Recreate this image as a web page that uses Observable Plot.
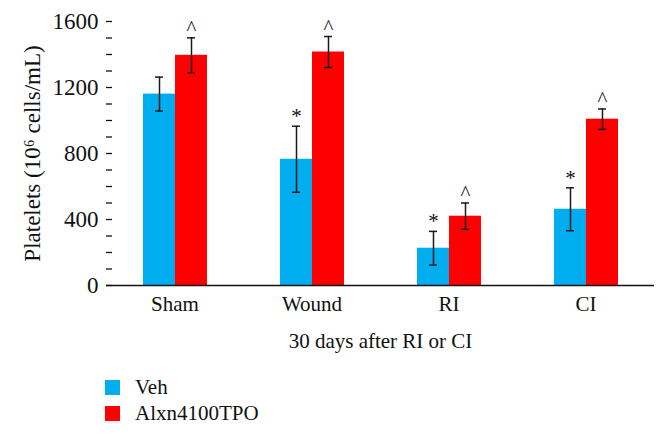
<!DOCTYPE html>
<html>
<head>
<meta charset="utf-8">
<script src="https://cdn.jsdelivr.net/npm/d3@7"></script>
<script src="https://cdn.jsdelivr.net/npm/@observablehq/plot@0.6"></script>
<style>
  body { margin: 0; background: #fff; font-family: "Liberation Serif", "DejaVu Serif", serif; }
  #legend { margin-top: 14px; padding-left: 105px; font-size: 21px; color: #111; }
  .row { height: 26px; display: flex; align-items: center; }
  .sw { width: 15px; height: 15px; margin-right: 15px; }
</style>
</head>
<body>
<div id="chart"></div>
<div id="legend"></div>
<script>
const categories = ["Sham", "Wound", "RI", "CI"];
const series = ["Veh", "Alxn4100TPO"];
const colors = ["#00aeef", "#ff0000"];
const vehValues = [1160, 765, 226, 462];
const vehErrors = [103, 200, 102, 130];
const vehMarks = ["", "*", "*", "*"];
const alxnValues = [1395, 1415, 420, 1008];
const alxnErrors = [106, 94, 80, 62];
const alxnMarks = ["^", "^", "^", "^"];
const yTicksMinor = d3.range(0, 1601, 100);
const yTicksLabeled = [0, 400, 800, 1200, 1600];

const data = [];
categories.forEach((c, i) => {
  data.push({cat: c, s: series[0], v: vehValues[i], e: vehErrors[i], m: vehMarks[i]});
  data.push({cat: c, s: series[1], v: alxnValues[i], e: alxnErrors[i], m: alxnMarks[i]});
});

const font = '"Liberation Serif", "DejaVu Serif", serif';

const chart = Plot.plot({
  width: 670,
  height: 360,
  marginLeft: 105,
  marginRight: 15,
  marginTop: 21,
  marginBottom: 75,
  style: {fontFamily: font, fontSize: "21px", color: "#111", background: "#fff"},
  fx: {domain: categories, padding: 0, axis: null},
  x: {domain: series, paddingInner: 0, paddingOuter: 1.083, axis: null},
  y: {domain: [0, 1600], axis: null},
  color: {domain: series, range: colors},
  marks: [
    Plot.barY(data, {fx: "cat", x: "s", y: "v", fill: "s"}),
    Plot.ruleX(data, {fx: "cat", x: "s", y1: d => d.v - d.e, y2: d => d.v + d.e, stroke: "#1a1a1a", strokeWidth: 1.5}),
    Plot.tickY(data, {fx: "cat", x: "s", y: d => d.v + d.e, stroke: "#1a1a1a", strokeWidth: 1.5, insetLeft: 12, insetRight: 12}),
    Plot.tickY(data, {fx: "cat", x: "s", y: d => d.v - d.e, stroke: "#1a1a1a", strokeWidth: 1.5, insetLeft: 12, insetRight: 12}),
    Plot.text(data, {fx: "cat", x: "s", y: d => d.v + d.e, text: "m", lineAnchor: "bottom", dy: -3, fontSize: 21, fill: "#111"}),
    Plot.ruleY([0], {stroke: "#111", strokeWidth: 1.5}),
    Plot.axisY({ticks: yTicksMinor, tickSize: -6, tickFormat: () => "", line: true, stroke: "#111", strokeWidth: 1.3, label: null}),
    Plot.axisY({ticks: yTicksLabeled, tickSize: 0, tickPadding: 8, tickFormat: d => String(d), label: null, fontSize: 23}),
    Plot.axisY({ticks: [], tickSize: 0, label: "Platelets (10⁶ cells/mL)", labelArrow: "none", labelAnchor: "center", labelOffset: 83, fontSize: 23}),
    Plot.axisFx({anchor: "bottom", tickSize: 0, tickPadding: 11, label: "30 days after RI or CI", labelArrow: "none", labelAnchor: "center", labelOffset: 62, fontSize: 21})
  ]
});
document.getElementById("chart").appendChild(chart);

const legend = document.getElementById("legend");
series.forEach((s, i) => {
  const row = document.createElement("div");
  row.className = "row";
  const sw = document.createElement("div");
  sw.className = "sw";
  sw.style.background = colors[i];
  const t = document.createElement("span");
  t.textContent = s;
  row.appendChild(sw);
  row.appendChild(t);
  legend.appendChild(row);
});
</script>
</body>
</html>
